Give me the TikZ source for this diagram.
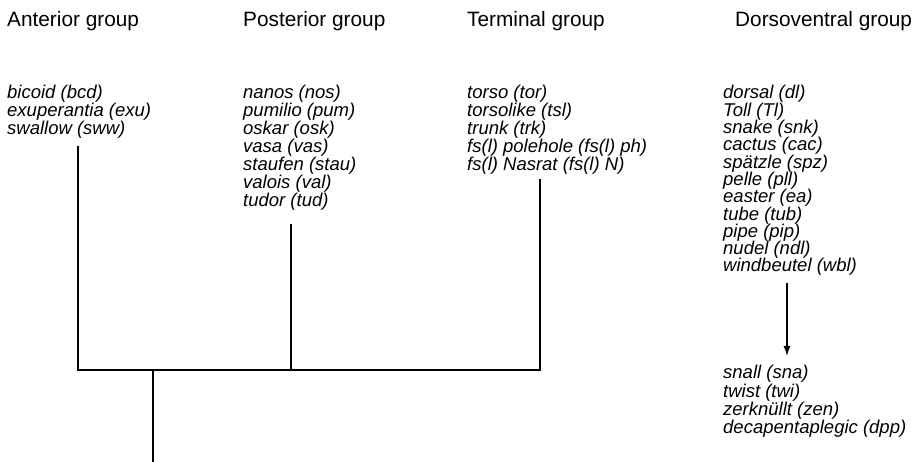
\documentclass[tikz,border=0pt]{standalone}
\usepackage{fontspec}
\setmainfont{Liberation Sans}
\usetikzlibrary{arrows.meta}
\begin{document}
\begin{tikzpicture}[x=1pt,y=-1pt,
  heading/.style={anchor=base west,inner sep=0pt,font=\fontsize{20.8}{22}\selectfont},
  gene/.style={anchor=base west,inner sep=0pt,font=\fontsize{18.5}{20}\selectfont\itshape},
  branch/.style={line width=1.7pt,line cap=rect},
  lineage/.style={line width=1.2pt,-{Latex[length=10pt,width=7pt]}}]
\useasboundingbox (0,0) rectangle (919,462);

% group headings
\node[heading] (hA) at (7,27) {Anterior group};
\node[heading] (hP) at (243,27) {Posterior group};
\node[heading] (hT) at (467,27) {Terminal group};
\node[heading] (hD) at (735,27) {Dorsoventral group};

% gene lists
\foreach \g [count=\i] in {bicoid (bcd),exuperantia (exu),swallow (sww)}
  \node[gene] (a\i) at (7,{99+18*(\i-1)}) {\g};
\foreach \g [count=\i] in {nanos (nos),pumilio (pum),oskar (osk),vasa (vas),staufen (stau),valois (val),tudor (tud)}
  \node[gene] (p\i) at (243,{99+18*(\i-1)}) {\g};
\foreach \g [count=\i] in {torso (tor),torsolike (tsl),trunk (trk),fs(l) polehole (fs(l) ph),fs(l) Nasrat (fs(l) N)}
  \node[gene] (t\i) at (467,{99+18*(\i-1)}) {\g};
\foreach \g [count=\i] in {dorsal (dl),Toll (Tl),snake (snk),cactus (cac),sp\"atzle (spz),pelle (pll),easter (ea),tube (tub),pipe (pip),nudel (ndl),windbeutel (wbl)}
  \node[gene] (d\i) at (723,{99+17.3*(\i-1)}) {\g};
\foreach \g [count=\i] in {snall (sna),twist (twi),zerkn\"ullt (zen),decapentaplegic (dpp)}
  \node[gene] (z\i) at (723,{379+18.3*(\i-1)}) {\g};

% tree joining the three maternal systems
\coordinate (antTop) at (78,147);
\coordinate (posTop) at (291,225);
\coordinate (terTop) at (540,180);
\coordinate (antJoin) at (78,370);
\coordinate (posJoin) at (291,370);
\coordinate (terJoin) at (540,370);
\coordinate (rootTop) at (153,370);
\coordinate (rootEnd) at (153,462);
\draw[branch] (antTop) -- (antJoin) -- (terJoin) -- (terTop);
\draw[branch] (posTop) -- (posJoin);
\draw[branch,line cap=butt] (rootTop) -- (rootEnd);

% dorsoventral cascade
\coordinate (dvFrom) at (787,283);
\coordinate (dvTo) at (787,356);
\draw[lineage] (dvFrom) -- (dvTo);
\end{tikzpicture}
\end{document}
